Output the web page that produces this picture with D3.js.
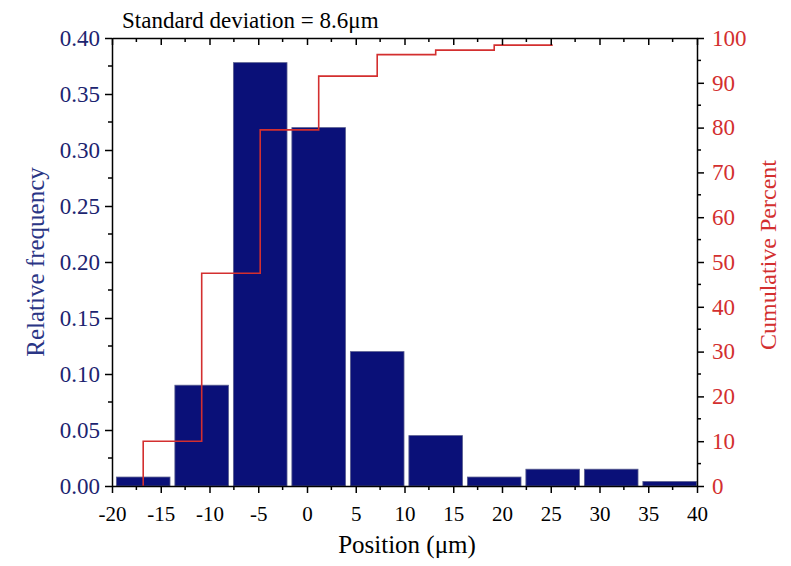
<!DOCTYPE html>
<html>
    <head>
        <title>Position histogram</title>
        <script src="https://d3js.org/d3.v7.min.js"></script>
        <style>
         body { margin: 0; background: #fff; }
         svg { display: block; font-family: "Liberation Serif", "Times New Roman", serif; }
        </style>
    </head>
    <body>
        <svg width="791" height="566"></svg>

        <script>
         // data
         const binCenters = [-16.8, -10.8, -4.8, 1.2, 7.2, 13.2, 19.2, 25.2, 31.2, 37.2];
         const relFreq = [0.008, 0.090, 0.378, 0.320, 0.120, 0.045, 0.008, 0.015, 0.015, 0.004];
         const cumX = [-16.8, -10.8, -4.8, 1.2, 7.2, 13.2, 19.2, 25.2];
         const cumPercent = [0, 10, 47.5, 79.5, 91.5, 96.3, 97.3, 98.4];
         const xTicks = [-20, -15, -10, -5, 0, 5, 10, 15, 20, 25, 30, 35, 40];
         const yTicks = [0, 0.05, 0.10, 0.15, 0.20, 0.25, 0.30, 0.35, 0.40];
         const y2Ticks = [0, 10, 20, 30, 40, 50, 60, 70, 80, 90, 100];

         const svg = d3.select("svg");
         const margin = {top: 38, right: 94, bottom: 80, left: 112};
         const width = +svg.attr("width");
         const height = +svg.attr("height");

         const barColor = "#0a1078";
         const navy = "#1c2470";
         const red = "#d32f2f";
         const serif = '"Liberation Serif", "Times New Roman", serif';

         const x = d3.scaleLinear().domain([-20, 40]).range([margin.left, width - margin.right]);
         const y = d3.scaleLinear().domain([0, 0.4]).range([height - margin.bottom, margin.top]);
         const y2 = d3.scaleLinear().domain([0, 100]).range([height - margin.bottom, margin.top]);

         const binW = 5.5;

         // bars
         svg.append("g")
            .selectAll("rect")
            .data(relFreq)
            .join("rect")
            .attr("x", (d, i) => x(binCenters[i] - binW / 2))
            .attr("width", (d, i) => x(binCenters[i] + binW / 2) - x(binCenters[i] - binW / 2))
            .attr("y", d => y(d))
            .attr("height", d => y(0) - y(d))
            .attr("fill", barColor)
            .attr("stroke", "#5a5f8f")
            .attr("stroke-width", 0.8);

         // cumulative step line
         const line = d3.line()
                        .x((d, i) => x(cumX[i]))
                        .y(d => y2(d))
                        .curve(d3.curveStepBefore);
         svg.append("path")
            .datum(cumPercent)
            .attr("d", line)
            .attr("fill", "none")
            .attr("stroke", red)
            .attr("stroke-width", 1.6);

         const minorX = d3.range(-17.5, 40, 5);
         const minorY = d3.range(0.025, 0.4, 0.05);
         const minorY2 = d3.range(5, 100, 10);

         function style(g, color, size) {
             g.attr("font-family", serif).attr("font-size", size);
             g.selectAll("text").attr("fill", color);
             g.selectAll("path, line").attr("stroke", "#000").attr("stroke-width", 1.5);
         }

         function minor(g, data, attrs) {
             g.selectAll(".minor").data(data).join("line")
              .attr("class", "minor")
              .attr("x1", attrs.x1).attr("x2", attrs.x2)
              .attr("y1", attrs.y1).attr("y2", attrs.y2)
              .attr("stroke", "#000").attr("stroke-width", 1.5);
         }

         // bottom axis
         const gBottom = svg.append("g")
            .attr("transform", `translate(0,${y(0)})`)
            .call(d3.axisBottom(x).tickValues(xTicks).tickSize(7).tickPadding(13).tickSizeOuter(0)
                  .tickFormat(d => String(d)))
            .call(g => style(g, "#000", 21));
         minor(gBottom, minorX, {x1: d => x(d), x2: d => x(d), y1: 0, y2: 4});

         // top axis, ticks inward
         const gTop = svg.append("g")
            .attr("transform", `translate(0,${y(0.4)})`)
            .call(d3.axisBottom(x).tickValues(xTicks).tickSize(7).tickSizeOuter(0).tickFormat(""))
            .call(g => style(g, "#000", 21));
         minor(gTop, minorX, {x1: d => x(d), x2: d => x(d), y1: 0, y2: 4});

         // left axis
         const gLeft = svg.append("g")
            .attr("transform", `translate(${x(-20)},0)`)
            .call(d3.axisLeft(y).tickValues(yTicks).tickSize(7).tickPadding(5).tickSizeOuter(0)
                  .tickFormat(d3.format(".2f")))
            .call(g => style(g, navy, 23));
         minor(gLeft, minorY, {x1: 0, x2: -4, y1: d => y(d), y2: d => y(d)});

         // right axis
         const gRight = svg.append("g")
            .attr("transform", `translate(${x(40)},0)`)
            .call(d3.axisRight(y2).tickValues(y2Ticks).tickSize(7).tickPadding(8).tickSizeOuter(0))
            .call(g => style(g, red, 23));
         minor(gRight, minorY2, {x1: 0, x2: 4, y1: d => y2(d), y2: d => y2(d)});

         // titles
         svg.append("text")
            .attr("x", 122)
            .attr("y", 28)
            .attr("font-size", 23)
            .attr("fill", "#000")
            .text("Standard deviation = 8.6μm");

         svg.append("text")
            .attr("text-anchor", "middle")
            .attr("x", 407)
            .attr("y", 553)
            .attr("font-size", 25)
            .attr("fill", "#000")
            .text("Position (μm)");

         svg.append("text")
            .attr("text-anchor", "middle")
            .attr("transform", "translate(44,262) rotate(-90)")
            .attr("font-size", 25)
            .attr("fill", "#2a3585")
            .text("Relative frequency");

         svg.append("text")
            .attr("text-anchor", "middle")
            .attr("transform", "translate(776,255) rotate(-90)")
            .attr("font-size", 24)
            .attr("fill", red)
            .text("Cumulative Percent");
        </script>
    </body>
</html>
